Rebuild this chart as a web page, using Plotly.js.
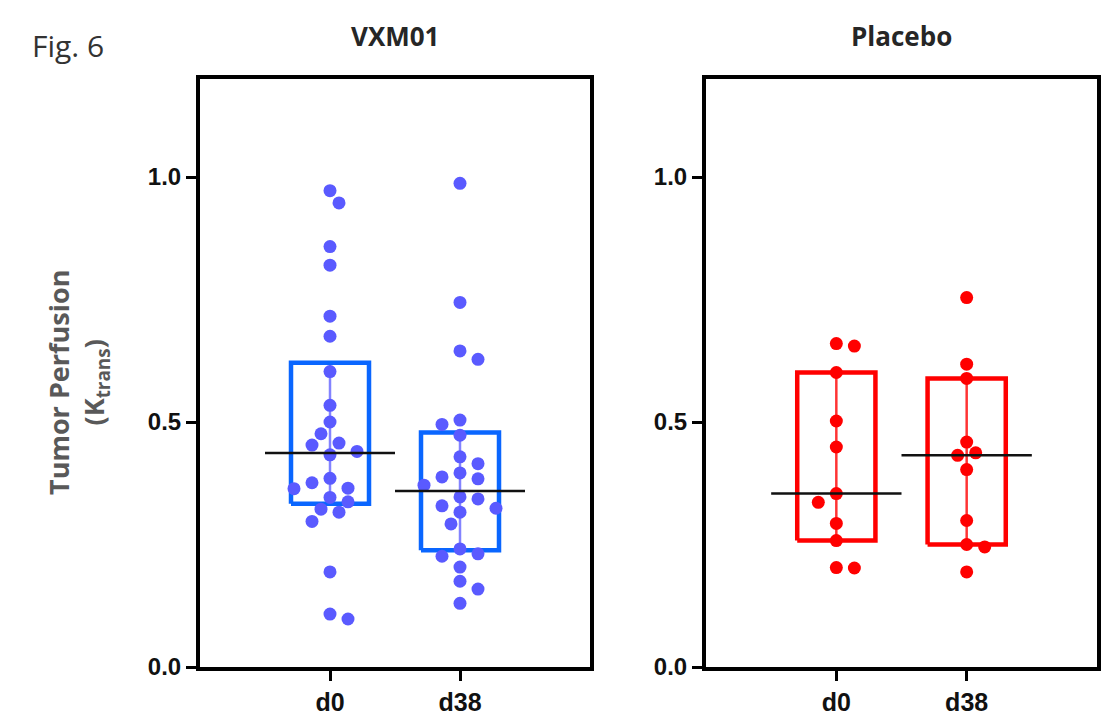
<!DOCTYPE html>
<html><head><meta charset="utf-8">
<script src="https://cdn.plot.ly/plotly-3.0.1.min.js"></script>
<style>html,body{margin:0;padding:0;background:#fff}</style>
</head><body><div id="chart" style="width:1106px;height:717px"></div>
<script>
// ---- data ----
const groups = ['VXM01', 'Placebo'];
const timepoints = ['d0', 'd38'];
const vxm01_d0 = [0.972, 0.947, 0.858, 0.820, 0.716, 0.675, 0.603, 0.534, 0.500, 0.476, 0.457, 0.453, 0.440,
                  0.433, 0.385, 0.376, 0.365, 0.364, 0.346, 0.337, 0.322, 0.316, 0.297, 0.194, 0.108, 0.098];
const vxm01_d38 = [0.987, 0.744, 0.645, 0.628, 0.504, 0.495, 0.473, 0.429, 0.415, 0.396, 0.388, 0.384, 0.371,
                   0.347, 0.343, 0.329, 0.324, 0.316, 0.292, 0.241, 0.231, 0.226, 0.204, 0.175, 0.159, 0.130];
const placebo_d0 = [0.660, 0.655, 0.601, 0.502, 0.449, 0.354, 0.336, 0.293, 0.258, 0.203, 0.202];
const placebo_d38 = [0.754, 0.618, 0.589, 0.459, 0.437, 0.432, 0.403, 0.299, 0.250, 0.245, 0.194];
const yTicks = [0, 0.5, 1.0];
const yTickLabels = ['0.0', '0.5', '1.0'];

// ---- style ----
const W = 1106, H = 717;
const xDom1 = [200 / W, 590 / W], xDom2 = [706 / W, 1097 / W];
const yDom = [50 / H, 638 / H];
const xRange = [-1, 2], yRange = [0, 1.2];
const pxPerX = (xDom1[1] - xDom1[0]) * W / (xRange[1] - xRange[0]);
const pxPerY = (yDom[1] - yDom[0]) * H / (yRange[1] - yRange[0]);

const panels = [
  { name: groups[0], sets: [vxm01_d0, vxm01_d38], dot: '#5a5aff', box: '#0a66ff', whisk: 'rgba(100,100,255,0.8)', xa: 'x', ya: 'y' },
  { name: groups[1], sets: [placebo_d0, placebo_d38], dot: '#ff0000', box: '#ff0000', whisk: 'rgba(255,0,0,0.8)', xa: 'x2', ya: 'y2' }
];

function quant(vals, p) {
  const s = vals.slice().sort((a, b) => a - b), n = s.length;
  const pos = p * (n + 1), lo = Math.floor(pos), fr = pos - lo;
  if (lo < 1) return s[0];
  if (lo >= n) return s[n - 1];
  return s[lo - 1] + fr * (s[lo] - s[lo - 1]);
}

// deterministic beeswarm (pixel space) -> offsets in category units
function swarm(vals) {
  const step = 9, D = 13.5;
  const order = vals.map((v, i) => i).sort((a, b) => vals[b] - vals[a]);
  const placed = [], offs = new Array(vals.length).fill(0);
  let toggle = 1;
  for (const i of order) {
    const y = vals[i] * pxPerY;
    let chosen = 0;
    outer:
    for (let k = 0; k < 12; k++) {
      const cands = k === 0 ? [0] : [toggle * k, -toggle * k];
      for (const c of cands) {
        const x = c * step;
        if (placed.every(p => Math.hypot(p[0] - x, p[1] - y) >= D)) { chosen = x; if (k > 0) toggle = -toggle; break outer; }
      }
    }
    placed.push([chosen, y]);
    offs[i] = chosen / pxPerX;
  }
  return offs;
}

const boxTraces = [], dotTraces = [], medTraces = [];
const halfBox = 0.3, halfMed = 0.5;
panels.forEach(pn => {
  pn.sets.forEach((vals, ti) => {
    const q1 = quant(vals, 0.25), med = quant(vals, 0.5), q3 = quant(vals, 0.75);
    boxTraces.push({
      type: 'scatter', mode: 'lines', xaxis: pn.xa, yaxis: pn.ya, hoverinfo: 'skip',
      x: [ti, ti], y: [q1, q3], line: { color: pn.whisk, width: 2.5 }
    });
    boxTraces.push({
      type: 'scatter', mode: 'lines', xaxis: pn.xa, yaxis: pn.ya, hoverinfo: 'skip',
      x: [ti - halfBox, ti + halfBox, ti + halfBox, ti - halfBox, ti - halfBox],
      y: [q1, q1, q3, q3, q1], line: { color: pn.box, width: 4.5 }
    });
    const offs = swarm(vals);
    dotTraces.push({
      type: 'scatter', mode: 'markers', xaxis: pn.xa, yaxis: pn.ya,
      x: vals.map((v, i) => ti + offs[i]), y: vals,
      marker: { color: pn.dot, size: 13, line: { width: 0 } }
    });
    medTraces.push({
      type: 'scatter', mode: 'lines', xaxis: pn.xa, yaxis: pn.ya, hoverinfo: 'skip',
      x: [ti - halfMed, ti + halfMed], y: [med, med], line: { color: '#111', width: 2.5 }
    });
  });
});

const axisCommon = {
  showline: true, linecolor: '#000', linewidth: 4, mirror: true,
  ticks: 'outside', ticklen: 10, tickwidth: 3, tickcolor: '#000',
  showgrid: false, zeroline: false, fixedrange: true
};
const xTickFont = { family: 'Liberation Sans, Arial, sans-serif', size: 25, color: '#111', weight: 'bold' };
const yTickFont = { family: 'Liberation Sans, Arial, sans-serif', size: 24, color: '#111', weight: 'bold' };

const layout = {
  width: W, height: H, margin: { l: 0, r: 0, t: 0, b: 0 },
  paper_bgcolor: '#fff', plot_bgcolor: '#fff', showlegend: false,
  xaxis: { ...axisCommon, domain: xDom1, range: xRange, tickvals: [0, 1], ticktext: timepoints, tickfont: xTickFont, anchor: 'y' },
  yaxis: { ...axisCommon, domain: yDom, range: yRange, tickvals: yTicks, ticktext: yTickLabels, tickfont: yTickFont, anchor: 'x' },
  xaxis2: { ...axisCommon, domain: xDom2, range: xRange, tickvals: [0, 1], ticktext: timepoints, tickfont: xTickFont, anchor: 'y2' },
  yaxis2: { ...axisCommon, domain: yDom, range: yRange, tickvals: yTicks, ticktext: yTickLabels, tickfont: yTickFont, anchor: 'x2' },
  annotations: [
    { text: groups[0], xref: 'x domain', yref: 'paper', x: 0.5, y: (H - 36) / H, xanchor: 'center', yanchor: 'middle', showarrow: false,
      font: { family: 'Open Sans, sans-serif', size: 26, color: '#262626', weight: 'bold' } },
    { text: groups[1], xref: 'x2 domain', yref: 'paper', x: 0.5, y: (H - 36) / H, xanchor: 'center', yanchor: 'middle', showarrow: false,
      font: { family: 'Open Sans, sans-serif', size: 26, color: '#262626', weight: 'bold' } },
    { text: 'Fig. 6', xref: 'paper', yref: 'paper', x: 30 / W, y: (H - 45) / H, xanchor: 'left', yanchor: 'middle', showarrow: false,
      font: { family: 'Open Sans, sans-serif', size: 30, color: '#333' } },
    { text: 'Tumor Perfusion<br>(K<sub>trans</sub>)', xref: 'paper', yref: 'paper', x: 78 / W, y: (H - 383) / H, xanchor: 'center', yanchor: 'middle',
      textangle: -90, showarrow: false, font: { family: 'Open Sans, sans-serif', size: 27, color: '#595959', weight: 'bold' } }
  ]
};

Plotly.newPlot('chart', [...boxTraces, ...dotTraces, ...medTraces], layout, { displayModeBar: false, staticPlot: true });
</script></body></html>
